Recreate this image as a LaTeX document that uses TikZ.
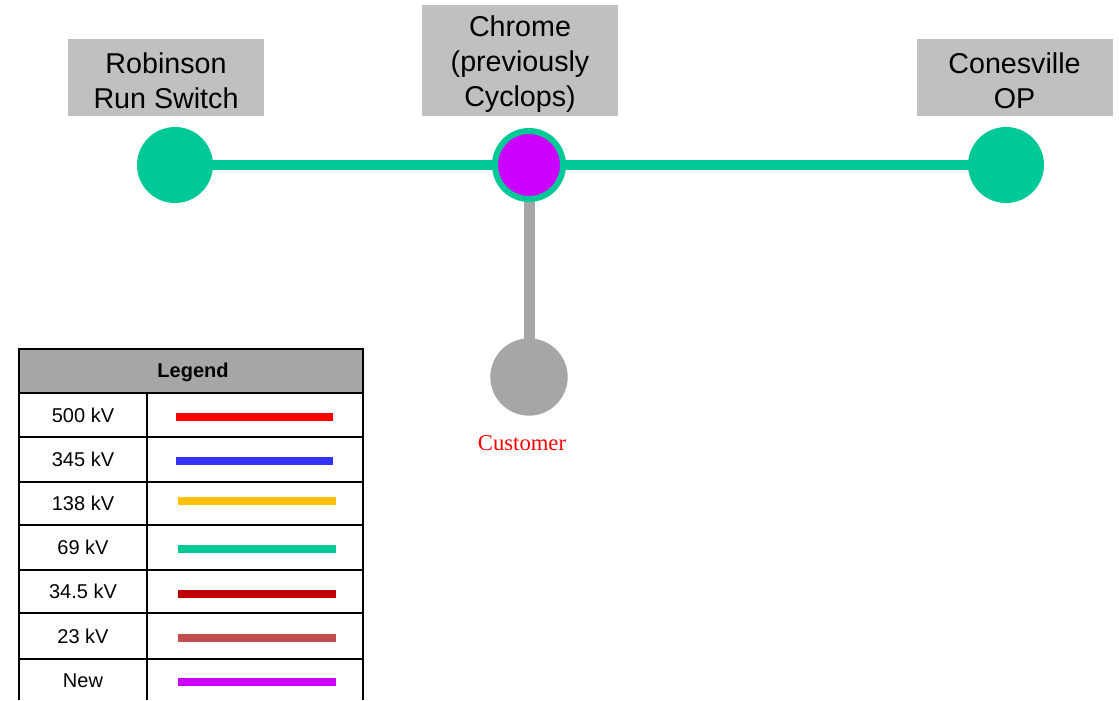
\documentclass[tikz,border=0pt]{standalone}
\usepackage{fontspec}
\setmainfont{Liberation Sans}
\newfontfamily\seriffont{Liberation Serif}
\usetikzlibrary{backgrounds}
\definecolor{kvgreen}{RGB}{0,200,150}
\definecolor{labelgray}{RGB}{192,192,192}
\definecolor{custgray}{RGB}{166,166,166}
\definecolor{headgray}{RGB}{166,166,166}
\definecolor{kvred}{RGB}{255,0,0}
\definecolor{kvblue}{RGB}{51,51,255}
\definecolor{kvorange}{RGB}{255,192,0}
\definecolor{kvdarkred}{RGB}{192,0,0}
\definecolor{kvbrick}{RGB}{192,80,77}
\definecolor{kvnew}{RGB}{204,0,255}
\tikzset{
  stationbox/.style={fill=labelgray, minimum width=147pt, inner sep=0pt},
  stationtext/.style={inner sep=0pt, align=center, yshift=-2.6pt,
    font=\fontsize{21.5}{26}\selectfont},
  busnode/.style={circle, fill=kvgreen, minimum size=57pt, inner sep=0pt},
  newbus/.style={circle, fill=kvnew, draw=kvgreen, line width=4.5pt, minimum size=51pt, inner sep=0pt},
  custnode/.style={circle, fill=custgray, minimum size=58pt, inner sep=0pt},
  line69/.style={kvgreen, line width=7.5pt},
  custline/.style={custgray, line width=8.25pt},
  legtext/.style={font=\fontsize{15}{18}\selectfont, inner sep=0pt},
  legline/.style={line width=6pt},
  grid/.style={line width=1.5pt, black}
}
\begin{document}
\begin{tikzpicture}[x=0.75pt,y=-0.75pt]
\useasboundingbox (0,0) rectangle (1119,700);

% station labels
\node[stationbox, minimum height=57.75pt] (roblab) at (166,77.5) {};
\node[stationtext] (robtext) at (roblab.center) {Robinson\\Run Switch};
\node[stationbox, minimum height=83.25pt] (chrlab) at (520,60.5) {};
\node[stationtext] (chrtext) at (chrlab.center) {Chrome\\(previously\\Cyclops)};
\node[stationbox, minimum height=57.75pt] (conlab) at (1014.5,77.5) {};
\node[stationtext] (context) at (conlab.center) {Conesville\\OP};

% buses
\node[busnode] (rob) at (175,165) {};
\node[newbus] (chr) at (529,165) {};
\node[busnode] (con) at (1006,165) {};
\node[custnode] (cust) at (529,377) {};
\node[font=\seriffont\fontsize{17}{20}\selectfont, text=red, inner sep=0pt] (custlab) at (522,443) {Customer};

\begin{scope}[on background layer]
\draw[line69] (rob.center) -- (chr.center);
\draw[line69] (chr.center) -- (con.center);
\draw[custline] (chr.center) -- (cust.center);
\end{scope}

% legend table
\fill[headgray] (19,349) rectangle (363,393);
\draw[grid] (19,700) -- (19,349) -- (363,349) -- (363,700);
\foreach \yy in {393,437,482,525,570,613,659} {
  \draw[grid] (19,\yy) -- (363,\yy);
}
\draw[grid] (147,393) -- (147,700);

\node[legtext, font=\bfseries\fontsize{15}{18}\selectfont] (leghead) at (193,372) {Legend};
\node[legtext] (l500) at (83,415) {500 kV};
\node[legtext] (l345) at (83,459.5) {345 kV};
\node[legtext] (l138) at (83,503.5) {138 kV};
\node[legtext] (l69) at (83,547.5) {69 kV};
\node[legtext] (l345b) at (83,591.5) {34.5 kV};
\node[legtext] (l23) at (83,636) {23 kV};
\node[legtext] (lnew) at (83,681) {New};

\draw[legline, kvred] (176,417) -- (333,417);
\draw[legline, kvblue] (176,461) -- (333,461);
\draw[legline, kvorange] (178,501) -- (336,501);
\draw[legline, kvgreen] (178,549) -- (336,549);
\draw[legline, kvdarkred] (178,594) -- (336,594);
\draw[legline, kvbrick] (178,638) -- (336,638);
\draw[legline, kvnew] (178,682) -- (336,682);
\end{tikzpicture}
\end{document}
